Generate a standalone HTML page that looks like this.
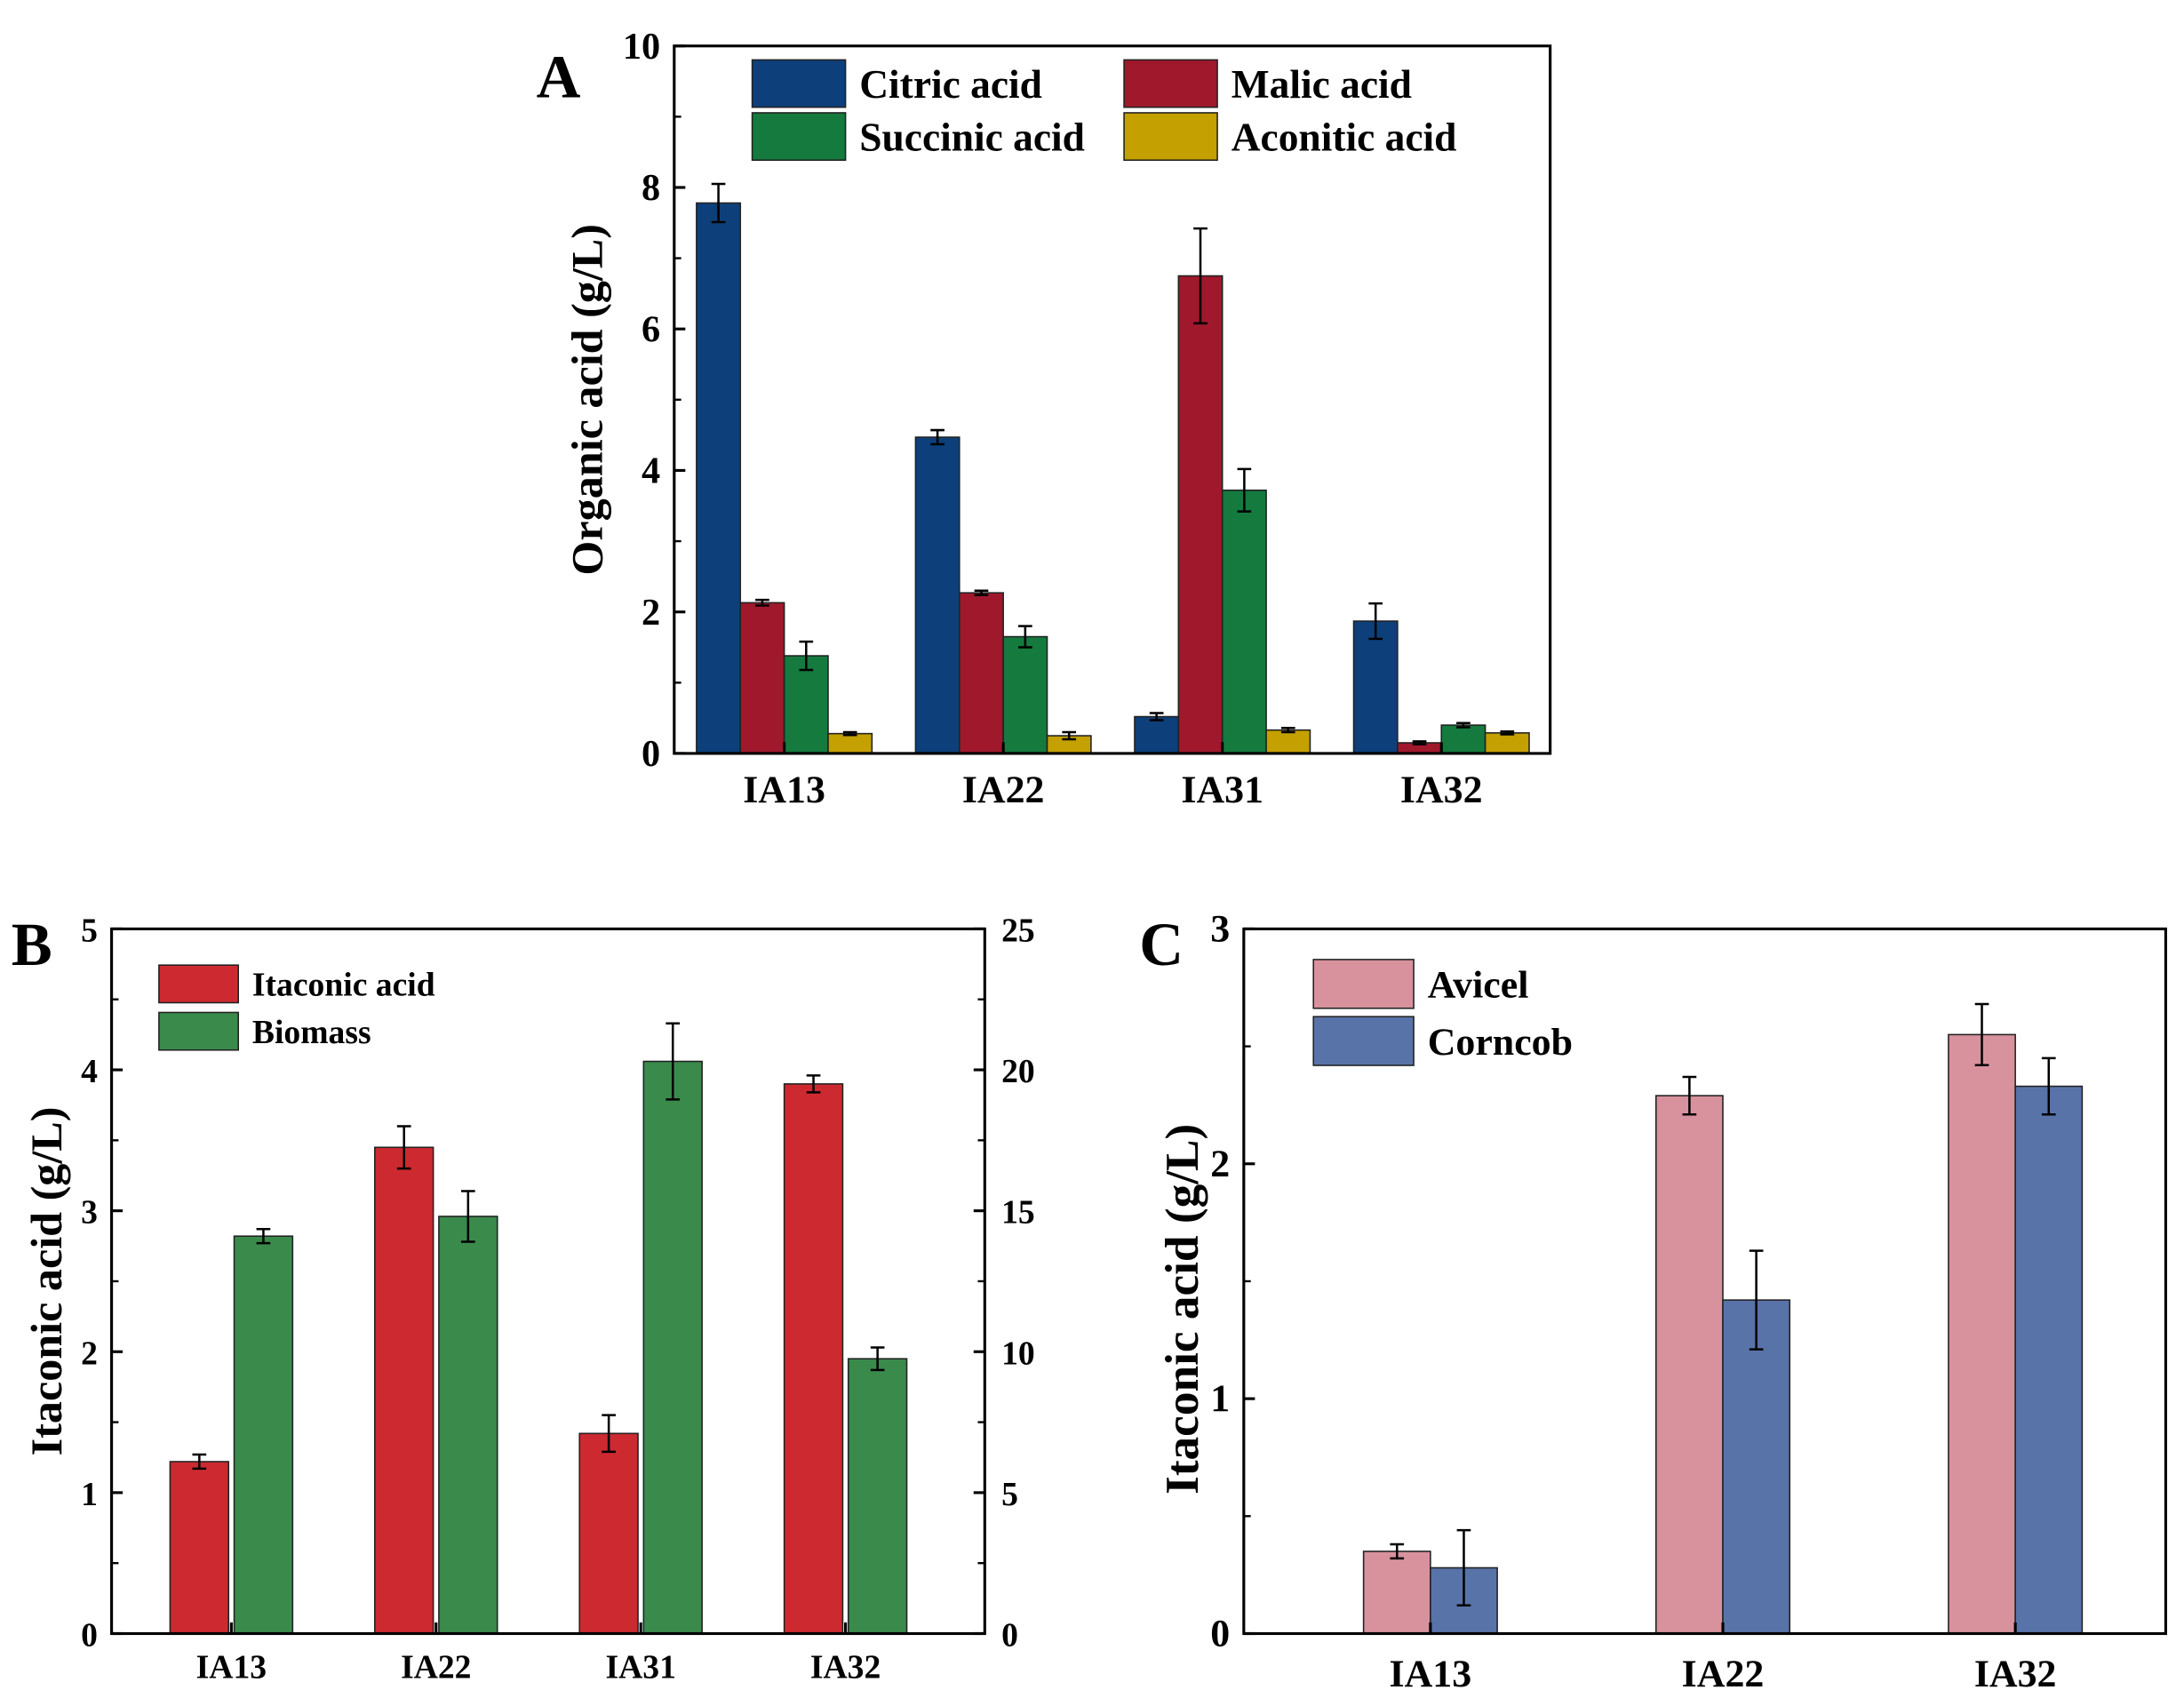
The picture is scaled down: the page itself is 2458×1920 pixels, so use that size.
<!DOCTYPE html>
<html><head><meta charset="utf-8"><style>
html,body{margin:0;padding:0;background:#fff}
svg{display:block}
text{font-family:"Liberation Serif",serif;font-weight:bold;fill:#000}
</style></head><body>
<svg id="fig" width="2458" height="1920" viewBox="0 0 1568 1225" xmlns="http://www.w3.org/2000/svg"></svg>
<script>
// Panel A data
const catsA = ["IA13","IA22","IA31","IA32"];
const citric = [7.78,4.47,0.52,1.87];
const citricErr = [0.27,0.1,0.05,0.25];
const malic = [2.13,2.27,6.75,0.15];
const malicErr = [0.04,0.03,0.67,0.02];
const succinic = [1.38,1.65,3.72,0.4];
const succinicErr = [0.2,0.15,0.3,0.03];
const aconitic = [0.28,0.25,0.33,0.29];
const aconiticErr = [0.02,0.05,0.03,0.02];
const ticksA = [0,2,4,6,8,10];
// Panel B data
const catsB = ["IA13","IA22","IA31","IA32"];
const itaconicB = [1.22,3.45,1.42,3.9];
const itaconicBErr = [0.05,0.15,0.13,0.06];
const biomass = [14.1,14.8,20.3,9.75];
const biomassErr = [0.25,0.9,1.35,0.4];
const ticksBL = [0,1,2,3,4,5];
const ticksBR = [0,5,10,15,20,25];
// Panel C data
const catsC = ["IA13","IA22","IA32"];
const avicel = [0.35,2.29,2.55];
const avicelErr = [0.03,0.08,0.13];
const corncob = [0.28,1.42,2.33];
const corncobErr = [0.16,0.21,0.12];
const ticksC = [0,1,2,3];

const NS="http://www.w3.org/2000/svg";
const svg=document.getElementById('fig');
function mk(tag,attrs,parent){const e=document.createElementNS(NS,tag);for(const k in attrs)e.setAttribute(k,attrs[k]);(parent||svg).appendChild(e);return e;}
function txt(s,attrs,parent){const e=mk('text',attrs,parent);e.textContent=s;return e;}

function panel(o){
  const g=mk('g',{});
  
  
  const y=v=>o.y0-(v-o.min)/(o.max-o.min)*(o.y0-o.y1);
  const yR=o.maxR?v=>o.y0-v/o.maxR*(o.y0-o.y1):null;
  o.series.forEach((s,si)=>{
    s.vals.forEach((v,ci)=>{
      const cx=o.x0+o.first+ci*o.step;
      const bx=cx+o.offsets[si];
      const yf=s.right?yR:y;
      const r=mk('rect',{x:bx,y:yf(v),width:o.bw,height:o.y0-yf(v),fill:s.color,stroke:'#222','stroke-width':1},g);
      
      
      const ex=bx+o.bw/2,e=s.err[ci];
      const p=mk('path',{d:`M${ex},${yf(v+e)}V${yf(v-e)}M${ex-5},${yf(v+e)}H${ex+5}M${ex-5},${yf(v-e)}H${ex+5}`,stroke:'#000','stroke-width':1.6,fill:'none'},g);
      
      
    });
  });
  const f=mk('rect',{x:o.x0,y:o.y1,width:o.x1-o.x0,height:o.y0-o.y1,fill:'none',stroke:'#000','stroke-width':2},g);
  
  
  o.ticks.forEach((t,i)=>{
    const yy=y(t);
    mk('line',{x1:o.x0,x2:o.x0+8,y1:yy,y2:yy,stroke:'#000','stroke-width':2},g);
    if(i<o.ticks.length-1){const ym=y(t+(o.ticks[1]-o.ticks[0])/2);mk('line',{x1:o.x0,x2:o.x0+5,y1:ym,y2:ym,stroke:'#000','stroke-width':1.5},g);}
    const l=txt(String(t),{x:o.x0-10,y:yy+9,'font-size':o.tfs,'text-anchor':'end'},g);
    
    
  });
  if(o.ticksR){o.ticksR.forEach((t,i)=>{
    const yy=yR(t);
    mk('line',{x1:o.x1,x2:o.x1-8,y1:yy,y2:yy,stroke:'#000','stroke-width':2},g);
    if(i<o.ticksR.length-1){const ym=yR(t+2.5);mk('line',{x1:o.x1,x2:o.x1-5,y1:ym,y2:ym,stroke:'#000','stroke-width':1.5},g);}
    const l=txt(String(t),{x:o.x1+12,y:yy+9,'font-size':o.tfs,'text-anchor':'start'},g);
    
    
  });}
  o.cats.forEach((c,ci)=>{
    const cx=o.x0+o.first+ci*o.step;
    mk('line',{x1:cx,x2:cx,y1:o.y0,y2:o.y0-8,stroke:'#000','stroke-width':2},g);
    const l=txt(c,{x:cx,y:o.y0+o.xlo,'font-size':o.xfs,'text-anchor':'middle'},g);
    
    
  });
  const yt=txt(o.ytitle,{x:0,y:0,'font-size':o.yfs,'text-anchor':'middle',transform:`translate(${o.ytx},${o.yty||(o.y0+o.y1)/2}) rotate(-90)`},g);
  
  
  const pl=txt(o.letter,{x:o.lx,y:o.ly,'font-size':44},g);
  
  
  o.legend.forEach(L=>{
    const le=mk('g',{},g);
    
    
    mk('rect',{x:L[0],y:L[1],width:L[2],height:L[3],fill:L[4],stroke:'#222','stroke-width':1},le);
    txt(L[5],{x:L[0]+L[2]+10,y:L[1]+L[3]/2+o.lfs*0.35,'font-size':o.lfs},le);
  });
}

panel({name:'panel-a-chart',cats:catsA,x0:484,x1:1113,y0:541,y1:33,min:0,max:10,first:79,step:157.3,bw:31.5,
  offsets:[-63,-31.5,0,31.5],ticks:ticksA,tfs:27,xfs:28,xlo:35,yfs:32,ytx:432,yty:287,ytitle:'Organic acid (g/L)',
  letter:'A',lx:385,ly:70,lfs:29,
  series:[{key:'citric',vals:citric,err:citricErr,color:'#0d407a'},{key:'malic',vals:malic,err:malicErr,color:'#a0182c'},
          {key:'succinic',vals:succinic,err:succinicErr,color:'#157a3e'},{key:'aconitic',vals:aconitic,err:aconiticErr,color:'#c4a000'}],
  legend:[[540,43,67,34,'#0d407a','Citric acid'],[807,43,67,34,'#a0182c','Malic acid'],[540,81,67,34,'#157a3e','Succinic acid'],[807,81,67,34,'#c4a000','Aconitic acid']]});

panel({name:'panel-b-chart',cats:catsB,x0:80,x1:707,y0:1173,y1:667,min:0,max:5,maxR:25,first:86,step:147,bw:42,
  offsets:[-44,2],ticks:ticksBL,ticksR:ticksBR,tfs:24,xfs:24,xlo:32,yfs:32,ytx:44,yty:920,ytitle:'Itaconic acid (g/L)',
  letter:'B',lx:8,ly:693,lfs:24,
  series:[{key:'itaconic',vals:itaconicB,err:itaconicBErr,color:'#cc2a30'},{key:'biomass',vals:biomass,err:biomassErr,color:'#3a8a4c',right:true}],
  legend:[[114,693,57,27,'#cc2a30','Itaconic acid'],[114,727,57,27,'#3a8a4c','Biomass']]});

panel({name:'panel-c-chart',cats:catsC,x0:893,x1:1555,y0:1173,y1:667,min:0,max:3,first:134,step:210,bw:48,
  offsets:[-48,0],ticks:ticksC,tfs:28,xfs:28,xlo:38,yfs:34,ytx:860,yty:940,ytitle:'Itaconic acid (g/L)',
  letter:'C',lx:818,ly:693,lfs:28,
  series:[{key:'avicel',vals:avicel,err:avicelErr,color:'#d8929e'},{key:'corncob',vals:corncob,err:corncobErr,color:'#5873a8'}],
  legend:[[943,689,72,35,'#d8929e','Avicel'],[943,730,72,35,'#5873a8','Corncob']]});
</script>
</body></html>
